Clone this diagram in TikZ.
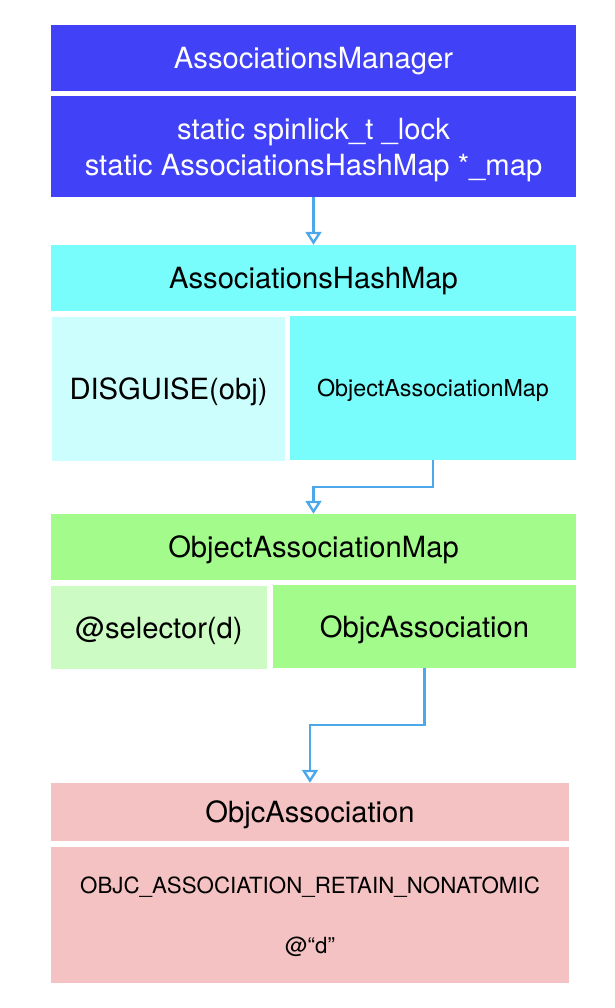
\documentclass[tikz,border=0pt]{standalone}
\usepackage{fontspec}
\setmainfont{TeX Gyre Heros}
\usepackage{xcolor}
\usepackage{tikz}
\usetikzlibrary{arrows.meta}

\definecolor{mgrblue}{RGB}{65,65,247}
\definecolor{mapcyan}{RGB}{120,252,252}
\definecolor{keycyan}{RGB}{204,254,254}
\definecolor{mapgreen}{RGB}{163,251,140}
\definecolor{keygreen}{RGB}{204,252,196}
\definecolor{assocpink}{RGB}{244,194,194}
\definecolor{linkblue}{RGB}{77,168,234}

\begin{document}
\begin{tikzpicture}[x=1pt,y=-1pt,
		cell/.style={inner sep=0pt,align=center,text depth=0pt,font=\fontsize{29.2}{36}\selectfont},
		small/.style={font=\fontsize{23.3}{27}\selectfont},
		tiny/.style={font=\fontsize{22.3}{27}\selectfont},
		link/.style={draw=linkblue,line width=2.4pt,-{Triangle[open,length=13pt,width=16pt,line width=2.4pt]}}]
		\useasboundingbox (0,0) rectangle (614,1008);
		%
		\node[cell,fill=mgrblue,text=white,minimum width=525pt,minimum height=66pt] (mgr) at (313.5,58) {AssociationsManager};
		\node[cell,fill=mgrblue,text=white,minimum width=525pt,minimum height=101pt] (mgrbody) at (313.5,146.5) {static spinlick\_t \_lock\\static AssociationsHashMap *\_map};
		%
		\node[cell,fill=mapcyan,minimum width=525pt,minimum height=66pt] (hash) at (313.5,278) {AssociationsHashMap};
		\node[cell,fill=keycyan,minimum width=233pt,minimum height=144pt] (key1) at (168.5,389) {DISGUISE(obj)};
		\node[cell,small,fill=mapcyan,minimum width=286pt,minimum height=144pt] (val1) at (433,388) {ObjectAssociationMap};
		%
		\node[cell,fill=mapgreen,minimum width=525pt,minimum height=66pt] (objmap) at (313.5,547) {ObjectAssociationMap};
		\node[cell,fill=keygreen,minimum width=216pt,minimum height=83pt] (key2) at (159,627.5) {@selector(d)};
		\node[cell,fill=mapgreen,minimum width=303pt,minimum height=83pt] (val2) at (424.5,626.5) {ObjcAssociation};
		%
		\node[cell,fill=assocpink,minimum width=518pt,minimum height=58pt] (assoc) at (310,812) {ObjcAssociation};
		\node[cell,tiny,fill=assocpink,minimum width=518pt,minimum height=136pt] (assocbody) at (310,915) {OBJC\_ASSOCIATION\_RETAIN\_NONATOMIC\\[33pt]@“d”};
		%
		\path[link] (mgrbody) edge (hash);
		\draw[link] (val1.south) -- ++(0,27) -| (objmap.north);
		\draw[link] (val2.south) -- ++(0,57) -| (assoc.north);
	\end{tikzpicture}
\end{document}
